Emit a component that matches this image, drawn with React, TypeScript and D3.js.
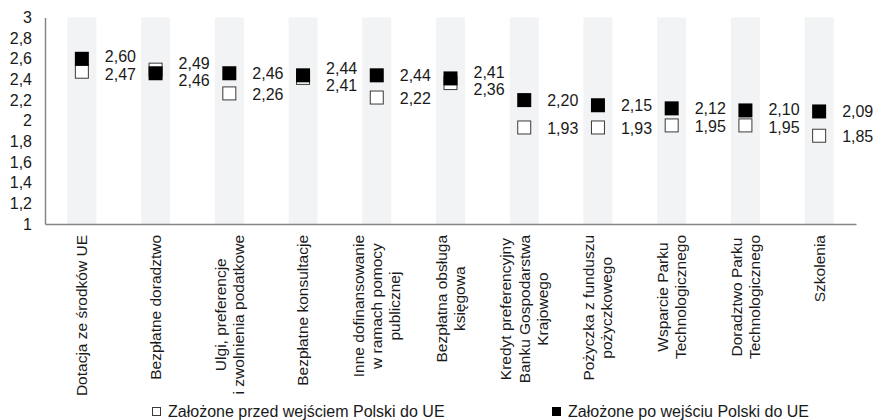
import React, { useEffect, useRef } from 'react';
import * as d3 from 'd3';

// categories (line breaks = "\n")
const categories = [
  'Dotacja ze środków UE',
  'Bezpłatne doradztwo',
  'Ulgi, preferencje\ni zwolnienia podatkowe',
  'Bezpłatne konsultacje',
  'Inne dofinansowanie\nw ramach pomocy\npublicznej',
  'Bezpłatna obsługa\nksięgowa',
  'Kredyt preferencyjny\nBanku Gospodarstwa\nKrajowego',
  'Pożyczka z funduszu\npożyczkowego',
  'Wsparcie Parku\nTechnologicznego',
  'Doradztwo Parku\nTechnologicznego',
  'Szkolenia',
];

// Założone przed wejściem Polski do UE (white squares)
const before = [2.47, 2.49, 2.26, 2.41, 2.22, 2.36, 1.93, 1.93, 1.95, 1.95, 1.85];
// Założone po wejściu Polski do UE (black squares)
const after = [2.6, 2.46, 2.46, 2.44, 2.44, 2.41, 2.2, 2.15, 2.12, 2.1, 2.09];

const yTicks = [1, 1.2, 1.4, 1.6, 1.8, 2, 2.2, 2.4, 2.6, 2.8, 3];
const legendLabels = ['Założone przed wejściem Polski do UE', 'Założone po wejściu Polski do UE'];

const FONT = '"Liberation Sans", Arial, sans-serif';

const App = () => {
  const svgRef = useRef<SVGSVGElement>(null);

  useEffect(() => {
    if (!svgRef.current) return;
    const svg = d3.select(svgRef.current);
    svg.selectAll('*').remove();

    const margin = { left: 45, right: 19, top: 17.5, bottom: 196 };
    const width = 875, height = 420;

    const x = d3.scaleBand<string>()
      .domain(categories)
      .range([margin.left, width - margin.right]);

    const y = d3.scaleLinear()
      .domain([1, 3])
      .range([height - margin.bottom, margin.top]);

    const tickFmt = (d: number) => d3.format('~g')(d).replace('.', ',');
    const valFmt = (d: number) => d.toFixed(2).replace('.', ',');

    // grey columns
    const colW = 29;
    svg.append('g')
      .selectAll('rect')
      .data(categories)
      .enter().append('rect')
      .attr('x', d => x(d)! + x.bandwidth() / 2 - colW / 2)
      .attr('y', y(3))
      .attr('width', colW)
      .attr('height', y(1) - y(3))
      .attr('fill', '#f2f3f5');

    // y axis
    const yAxis = svg.append('g')
      .attr('transform', `translate(${margin.left},0)`)
      .call(d3.axisLeft(y).tickValues(yTicks).tickSize(0).tickPadding(13).tickFormat(d => tickFmt(d as number)));
    yAxis.select('.domain').attr('stroke', '#858585').attr('stroke-width', 1.5);
    yAxis.selectAll('text')
      .style('font-family', FONT)
      .style('font-size', '16px')
      .attr('fill', '#1a1a1a');

    // x axis
    const xAxis = svg.append('g')
      .attr('transform', `translate(0,${y(1)})`)
      .call(d3.axisBottom(x).tickSize(0).tickFormat(() => ''));
    xAxis.select('.domain').attr('stroke', '#858585').attr('stroke-width', 1.5);

    // category labels (rotated, lines centred, block starts just under the axis)
    const lineH = 18.2;
    const labelTop = y(1) + 11;
    categories.forEach(cat => {
      const lines = cat.split('\n');
      const cx = x(cat)! + x.bandwidth() / 2;
      const g = svg.append('g');
      const texts = lines.map(ln =>
        g.append('text')
          .style('font-family', FONT)
          .style('font-size', '15.5px')
          .attr('fill', '#1a1a1a')
          .attr('text-anchor', 'middle')
          .attr('dy', '0.35em')
          .text(ln)
      );
      const maxLen = d3.max(texts, t => (t.node() as SVGTextElement).getComputedTextLength()) || 0;
      const cy = labelTop + maxLen / 2;
      texts.forEach((t, i) => {
        const lx = cx + (i - (lines.length - 1) / 2) * lineH;
        t.attr('transform', `translate(${lx},${cy}) rotate(-90)`);
      });
    });

    const sz = 14;
    const data = categories.map((c, i) => ({ c, b: before[i], a: after[i] }));

    // white squares
    svg.append('g')
      .selectAll('rect')
      .data(data)
      .enter().append('rect')
      .attr('x', d => x(d.c)! + x.bandwidth() / 2 - sz / 2 + 0.5)
      .attr('y', d => y(d.b) - sz / 2)
      .attr('width', sz - 1)
      .attr('height', sz - 1)
      .attr('fill', '#ffffff')
      .attr('stroke', '#3a3a3a')
      .attr('stroke-width', 1);

    // black squares
    svg.append('g')
      .selectAll('rect')
      .data(data)
      .enter().append('rect')
      .attr('x', d => x(d.c)! + x.bandwidth() / 2 - sz / 2)
      .attr('y', d => y(d.a) - sz / 2)
      .attr('width', sz)
      .attr('height', sz)
      .attr('fill', '#000000');

    // value labels, pushed apart when they would overlap
    const minGap = 17.5;
    data.forEach(d => {
      let yb = y(d.b), ya = y(d.a);
      const gap = Math.abs(yb - ya);
      if (gap < minGap) {
        const mid = (yb + ya) / 2;
        const sign = yb >= ya ? 1 : -1;
        yb = mid + sign * minGap / 2;
        ya = mid - sign * minGap / 2;
      }
      const lx = x(d.c)! + x.bandwidth() / 2 + 23;
      [[ya, d.a], [yb, d.b]].forEach(([py, v]) => {
        svg.append('text')
          .attr('x', lx)
          .attr('y', py)
          .attr('dy', '0.35em')
          .style('font-family', FONT)
          .style('font-size', '16px')
          .attr('fill', '#1a1a1a')
          .text(valFmt(v));
      });
    });

    // legend
    const legendX = [152, 552];
    legendLabels.forEach((lbl, i) => {
      const lg = svg.append('g').attr('transform', `translate(${legendX[i]},411)`);
      lg.append('rect')
        .attr('x', i === 0 ? 0.5 : 0)
        .attr('y', i === 0 ? -3.5 : -4)
        .attr('width', i === 0 ? 8 : 9)
        .attr('height', i === 0 ? 8 : 9)
        .attr('fill', i === 0 ? '#ffffff' : '#000000')
        .attr('stroke', i === 0 ? '#3a3a3a' : 'none');
      lg.append('text')
        .attr('x', 16)
        .attr('y', 0)
        .attr('dy', '0.35em')
        .style('font-family', FONT)
        .style('font-size', '16px')
        .attr('fill', '#1a1a1a')
        .text(lbl);
    });
  }, []);

  return (
    <svg
      ref={svgRef}
      width={875}
      height={420}
      style={{ position: 'absolute', left: 0, top: 0, background: '#ffffff' }}
    />
  );
};

export default App;
